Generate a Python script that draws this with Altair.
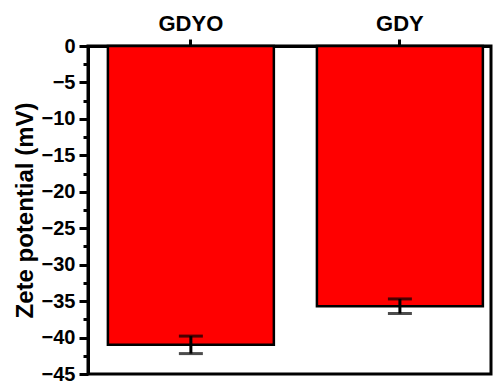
import altair as alt
import pandas as pd

samples = ["GDYO", "GDY"]
zeta = [-41.0, -35.7]
zeta_err = [1.2, 1.0]
y_ticks = [0, -2.5, -5, -7.5, -10, -12.5, -15, -17.5, -20, -22.5, -25,
           -27.5, -30, -32.5, -35, -37.5, -40, -42.5, -45]

df = pd.DataFrame({"sample": samples, "zeta": zeta, "err": zeta_err})
df["low"] = df["zeta"] - df["err"]
df["high"] = df["zeta"] + df["err"]

FONT = "Liberation Sans"
MAJOR = "abs(datum.value % 5) < 0.01"

x_axis = alt.Axis(
    orient="top", title=None, labelAngle=0,
    labelFont=FONT, labelFontSize=22, labelFontWeight="bold", labelColor="black",
    labelPadding=4, tickSize=7, tickWidth=3, tickColor="black",
    domain=True, ticks=True, domainColor="black", domainWidth=3,
)
y_axis = alt.Axis(
    values=y_ticks,
    title="Zete potential (mV)",
    titleFont=FONT, titleFontSize=24, titleFontWeight="bold", titleColor="black",
    titlePadding=4,
    labelFont=FONT, labelFontSize=20, labelFontWeight="bold", labelColor="black",
    labelExpr=MAJOR + " ? datum.label : ''",
    labelOverlap=False, labelPadding=4,
    tickSize={"condition": {"test": MAJOR, "value": 9}, "value": 5},
    tickWidth=3, tickColor="black",
    domain=True, ticks=True, domainColor="black", domainWidth=3, grid=False,
)
x_scale = alt.Scale(paddingInner=0.206, paddingOuter=0.067, align=0.71)
y_scale = alt.Scale(domain=[-45, 0], nice=False, zero=False)

def X():
    return alt.X("sample:N", sort=samples, scale=x_scale, axis=x_axis)

def Y(field):
    return alt.Y(field, type="quantitative", scale=y_scale, axis=y_axis,
                 title="Zete potential (mV)")

bars = alt.Chart(df).mark_bar(
    color="#FF0000", stroke="black", strokeWidth=2.5
).encode(x=X(), y=Y("zeta"))

rules = alt.Chart(df).mark_rule(color="black", strokeWidth=3).encode(
    x=X(), y=Y("low"), y2="high:Q",
)
caps_low = alt.Chart(df).mark_tick(color="black", thickness=3, size=24).encode(
    x=X(), y=Y("low"),
)
caps_high = alt.Chart(df).mark_tick(color="black", thickness=3, size=24).encode(
    x=X(), y=Y("high"),
)

chart = alt.layer(bars, rules, caps_low, caps_high).properties(
    width=403, height=328,
    background="white",
    autosize=alt.AutoSizeParams(type="none"),
    padding={"left": 80, "top": 38, "right": 2, "bottom": 10},
).configure_view(
    stroke="black", strokeWidth=3
)

chart.save("out.html", embed_options={"renderer": "svg", "actions": False})
